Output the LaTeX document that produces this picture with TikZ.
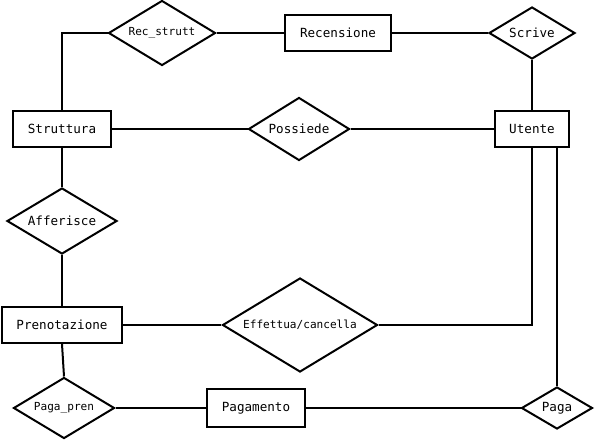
\documentclass[tikz,border=0pt]{standalone}
\usepackage{fontspec}
\setmonofont{DejaVu Sans Mono}
\usetikzlibrary{shapes.geometric}
\begin{document}
\begin{tikzpicture}[x=1pt,y=-1pt,line width=2pt,
    entity/.style={draw,rectangle,inner sep=0pt,font=\ttfamily\fontsize{12.6}{14}\selectfont},
    rel/.style={draw,diamond,aspect=1.65,inner sep=0pt,font=\ttfamily\fontsize{12.6}{14}\selectfont},
    relsmall/.style={rel,font=\ttfamily\fontsize{11.1}{13}\selectfont}]
      \useasboundingbox (0,0) rectangle (600,442);
      \path
        (62,129) node[entity,minimum width=98pt,minimum height=36pt] (struttura){Struttura}
        (338,33) node[entity,minimum width=106pt,minimum height=36pt] (recensione){Recensione}
        (532,129) node[entity,minimum width=74pt,minimum height=36pt] (utente){Utente}
        (62,325) node[entity,minimum width=120pt,minimum height=36pt] (prenotazione){Prenotazione}
        (256,408) node[entity,minimum width=98pt,minimum height=38pt] (pagamento){Pagamento}
        (162,33) node[relsmall,minimum width=107pt,minimum height=65pt] (recstrutt){Rec\_strutt}
        (532,33) node[rel,minimum width=86pt,minimum height=52pt] (scrive){Scrive}
        (299,129) node[rel,minimum width=101pt,minimum height=63pt] (possiede){Possiede}
        (62,221) node[rel,minimum width=110pt,minimum height=66pt] (afferisce){Afferisce}
        (300,325) node[relsmall,minimum width=155pt,minimum height=94pt] (effettua){Effettua/cancella}
        (64,408) node[relsmall,minimum width=101pt,minimum height=61pt] (pagapren){Paga\_pren}
        (557,408) node[rel,minimum width=71pt,minimum height=42pt] (paga){Paga};
      \begin{scope}[-]
        \draw (recstrutt.west) -| (struttura.north);
        \draw (recstrutt) to (recensione);
        \draw (recensione) to (scrive);
        \draw (scrive) to (utente);
        \draw (struttura) to (possiede);
        \draw (possiede) to (utente);
        \draw (struttura) to (afferisce);
        \draw (afferisce) to (prenotazione);
        \draw (prenotazione) to (effettua);
        \draw (effettua.east) -| (utente.south);
        \draw (paga.north |- utente.south) to (paga.north);
        \draw (prenotazione.south) to (pagapren.north);
        \draw (pagapren) to (pagamento);
        \draw (pagamento) to (paga);
      \end{scope}
    \end{tikzpicture}
\end{document}
